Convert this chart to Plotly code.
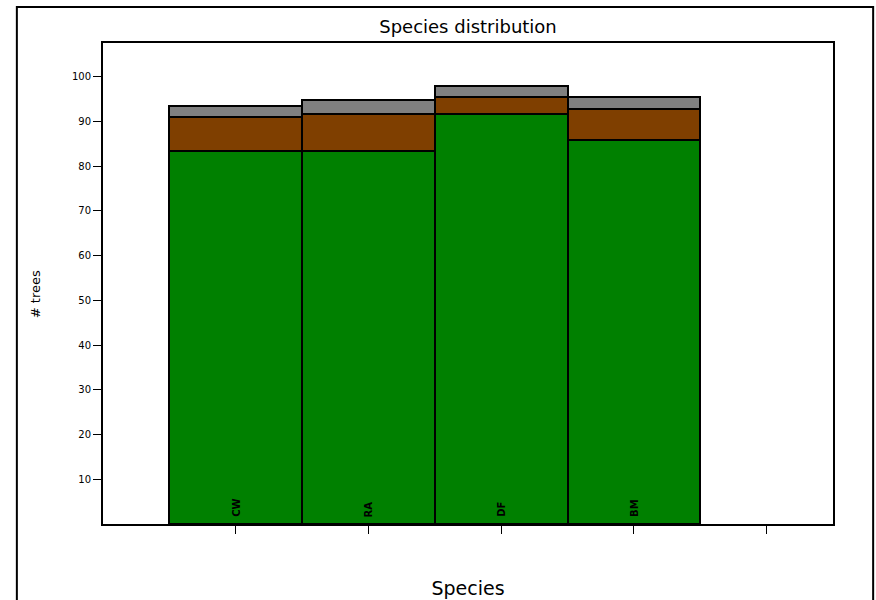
import plotly.graph_objects as go

species = ["CW", "RA", "DF", "BM"]
x_pos = [0, 1, 2, 3]
tick_positions = [0, 1, 2, 3, 4]
live = [83.4, 83.4, 91.6, 85.8]
dead = [7.6, 8.3, 3.8, 6.9]
other = [2.4, 3.0, 2.5, 2.7]
y_ticks = [10, 20, 30, 40, 50, 60, 70, 80, 90, 100]

colors = ["#008000", "#7f3f00", "#808080"]
series = [live, dead, other]
names = ["live", "dead", "other"]

fig = go.Figure()
for vals, col, nm in zip(series, colors, names):
    fig.add_trace(go.Bar(x=x_pos, y=vals, name=nm, width=1,
                         marker=dict(color=col, line=dict(color="black", width=2))))

for xi, lab in zip(x_pos, species):
    fig.add_annotation(x=xi, y=0, xref="x", yref="y", text="<b>" + lab + "</b>", textangle=-90,
                       showarrow=False, yanchor="bottom", yshift=5,
                       font=dict(family="DejaVu Sans", size=10, color="black"))

fig.add_annotation(x=-0.093, y=0.478, xref="paper", yref="paper", text="# trees",
                   textangle=-90, showarrow=False, xanchor="center", yanchor="middle",
                   font=dict(family="DejaVu Sans", size=13, color="black"))

fig.add_shape(type="rect", xref="paper", yref="paper",
              x0=-0.118, x1=1.055, y0=-0.2, y1=1.075,
              line=dict(color="black", width=2), fillcolor="rgba(0,0,0,0)", layer="below")

fig.update_layout(
    width=876, height=600,
    barmode="stack", bargap=0,
    showlegend=False,
    paper_bgcolor="white", plot_bgcolor="white",
    margin=dict(l=103, r=43, t=43, b=76),
    font=dict(family="DejaVu Sans", color="black"),
    title=dict(text="Species distribution", x=0.5, xanchor="center", y=0.955, yanchor="middle",
               xref="paper", font=dict(size=18, family="DejaVu Sans")),
    xaxis=dict(range=[-1, 4.5], tickmode="array", tickvals=tick_positions,
               ticktext=[""] * len(tick_positions), ticks="outside", ticklen=8, tickwidth=1,
               tickcolor="black", showline=True, linecolor="black", linewidth=2, mirror=True,
               showgrid=False, zeroline=False, automargin=False,
               title=dict(text="Species", font=dict(size=19), standoff=46)),
    yaxis=dict(range=[0, 107.5], tickmode="array", tickvals=y_ticks, ticks="outside",
               ticklen=8, tickwidth=1, tickcolor="black", showline=True, linecolor="black",
               linewidth=2, mirror=True, showgrid=False, zeroline=False, automargin=False,
               tickfont=dict(size=10)),
)

fig.write_html("out.html", config={"displayModeBar": False},
               post_script="document.body.style.margin='0';document.body.style.padding='0';")
